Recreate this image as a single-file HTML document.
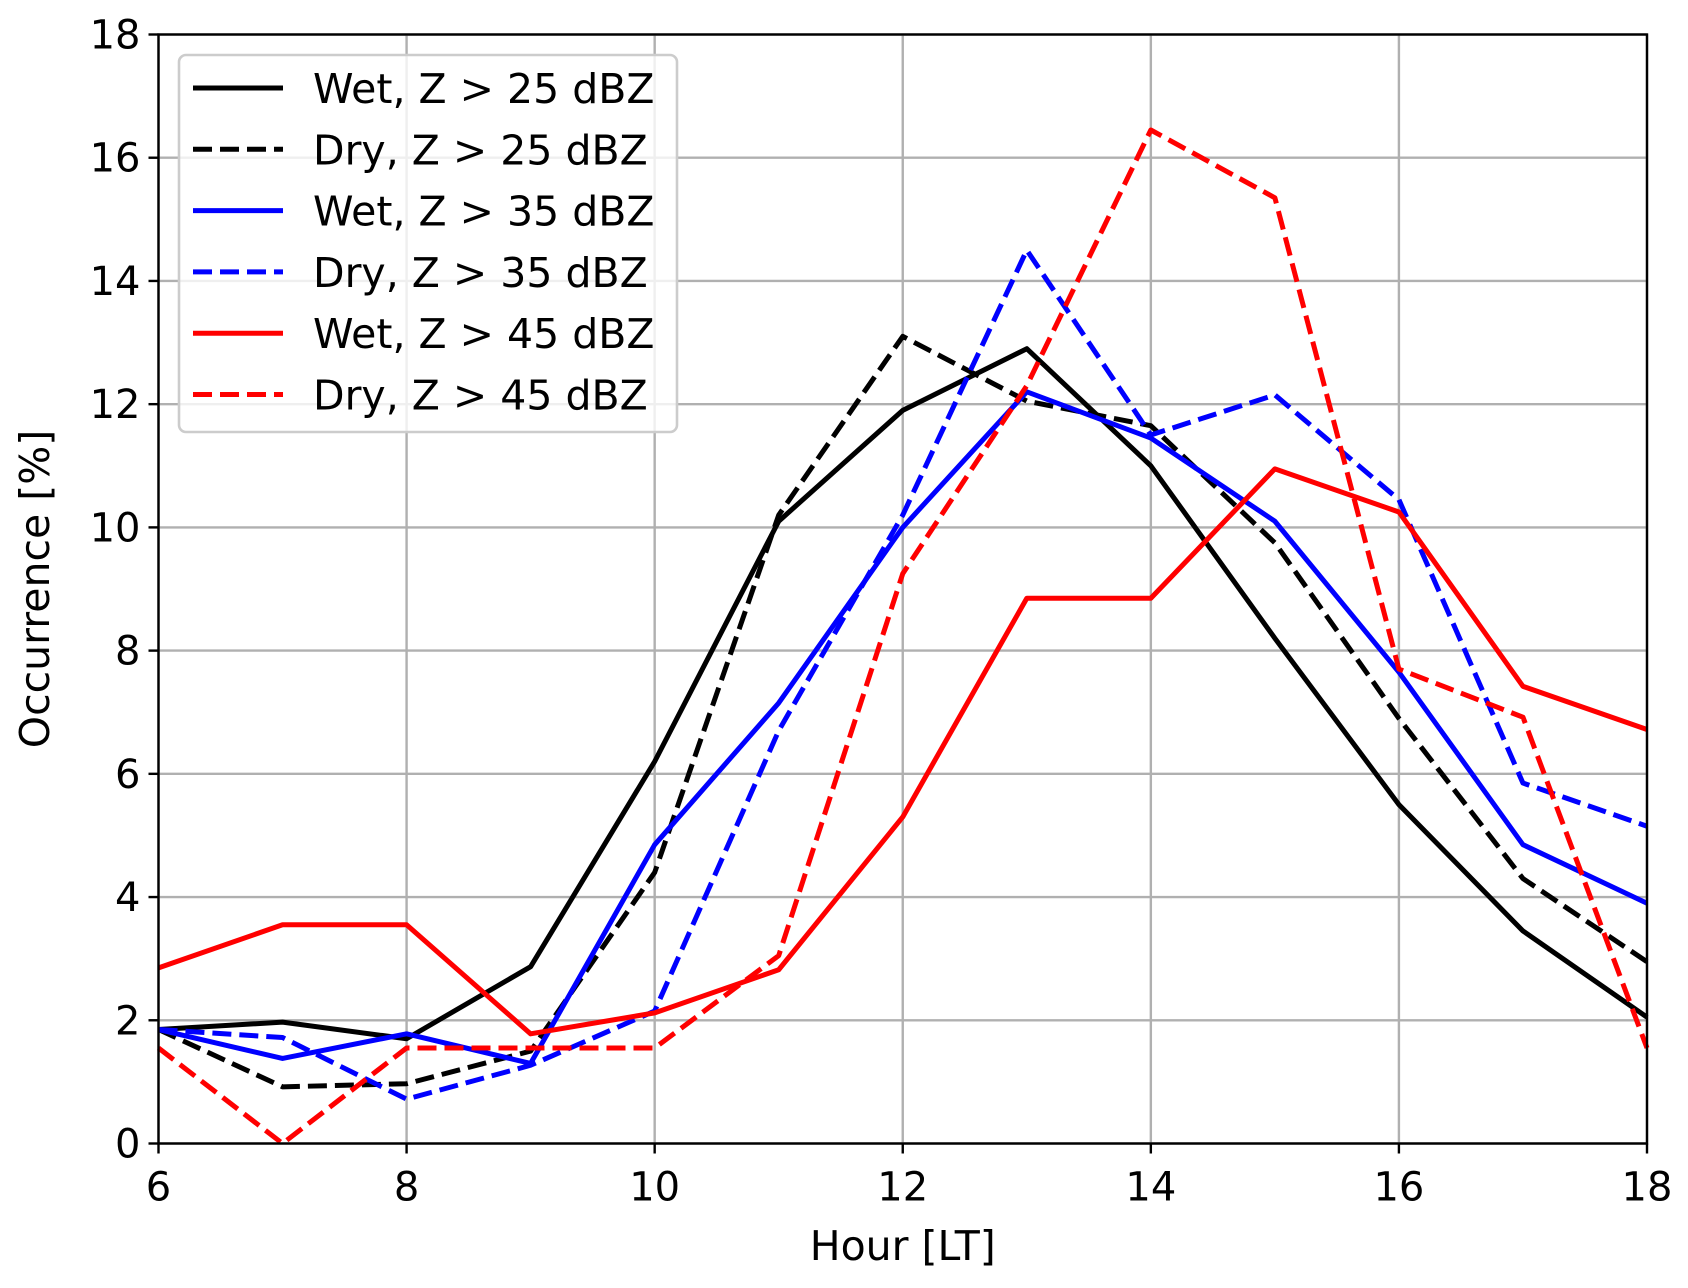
<!DOCTYPE html>
<html><head><meta charset="utf-8"><style>
html,body{margin:0;padding:0;background:#fff;}
svg text{font-family:"DejaVu Sans","Liberation Sans",sans-serif;fill:#000;}
</style></head><body>
<svg id="chart" width="1688" height="1283" viewBox="0 0 1688 1283" xmlns="http://www.w3.org/2000/svg">
<g id="grid"></g>
<g id="series"></g>
<g id="axes"></g>
<g id="legend"></g>
</svg>
<script>
const hours = [6,7,8,9,10,11,12,13,14,15,16,17,18];
const wet25 = [1.85,1.97,1.7,2.87,6.2,10.1,11.9,12.9,11.0,8.2,5.5,3.45,2.05];
const dry25 = [1.85,0.92,0.97,1.5,4.4,10.2,13.1,12.05,11.65,9.75,6.9,4.3,2.95];
const wet35 = [1.85,1.38,1.78,1.3,4.85,7.15,10.0,12.2,11.45,10.1,7.65,4.85,3.9];
const dry35 = [1.85,1.72,0.72,1.27,2.15,6.7,10.2,14.5,11.5,12.15,10.45,5.85,5.15];
const wet45 = [2.85,3.55,3.55,1.78,2.12,2.82,5.3,8.85,8.85,10.95,10.25,7.42,6.72];
const dry45 = [1.55,0.0,1.55,1.55,1.55,3.05,9.25,12.3,16.45,15.35,7.7,6.92,1.55];
const xTicks = [6,8,10,12,14,16,18];
const yTicks = [0,2,4,6,8,10,12,14,16,18];
const seriesNames = ["Wet, Z > 25 dBZ","Dry, Z > 25 dBZ","Wet, Z > 35 dBZ","Dry, Z > 35 dBZ","Wet, Z > 45 dBZ","Dry, Z > 45 dBZ"];

const L=158.5,R=1647,T=34.5,B=1143.5;
const X=v=>L+(v-6)/(18-6)*(R-L);
const Y=v=>B-(v-0)/(18-0)*(B-T);
const NS="http://www.w3.org/2000/svg";
function mk(tag,parent,attrs){const e=document.createElementNS(NS,tag);for(const k in attrs)e.setAttribute(k,attrs[k]);parent.appendChild(e);return e;}
const grid=document.getElementById('grid'),axes=document.getElementById('axes'),ser=document.getElementById('series'),leg=document.getElementById('legend');

xTicks.forEach(t=>{
  const g=mk('line',grid,{x1:X(t),x2:X(t),y1:T,y2:B,stroke:'#b0b0b0','stroke-width':2.4});
  
  
  const tk=mk('line',axes,{x1:X(t),x2:X(t),y1:B,y2:B+10,stroke:'#000','stroke-width':2.4});
  
  
  const tx=mk('text',axes,{x:X(t),y:B+57,'font-size':40,'text-anchor':'middle'});
  tx.textContent=t;
  
  
});
yTicks.forEach(t=>{
  const g=mk('line',grid,{x1:L,x2:R,y1:Y(t),y2:Y(t),stroke:'#b0b0b0','stroke-width':2.4});
  
  
  const tk=mk('line',axes,{x1:L-10,x2:L,y1:Y(t),y2:Y(t),stroke:'#000','stroke-width':2.4});
  
  
  const tx=mk('text',axes,{x:L-18,y:Y(t)+14,'font-size':40,'text-anchor':'end'});
  tx.textContent=t;
  
  
});
const frame=mk('rect',axes,{x:L,y:T,width:R-L,height:B-T,fill:'none',stroke:'#000','stroke-width':2.4});


const xl=mk('text',axes,{x:(L+R)/2,y:1260,'font-size':41,'text-anchor':'middle'});
xl.textContent='Hour [LT]';


const yl=mk('text',axes,{x:0,y:0,'font-size':41,'text-anchor':'middle',transform:`translate(49,${(T+B)/2}) rotate(-90)`});
yl.textContent='Occurrence [%]';



const all=[wet25,dry25,wet35,dry35,wet45,dry45];
const colors=['#000','#000','#0000ff','#0000ff','#ff0000','#ff0000'];
const dashed=[false,true,false,true,false,true];
const ids=['wet-25-line','dry-25-line','wet-35-line','dry-35-line','wet-45-line','dry-45-line'];
all.forEach((d,i)=>{
  const pts=d.map((v,j)=>X(hours[j])+','+Y(v)).join(' ');
  const p=mk('polyline',ser,{points:pts,fill:'none',stroke:colors[i],'stroke-width':5,'stroke-linejoin':'round','stroke-dasharray':dashed[i]?'19,8':'none'});
  
  
});

const box=mk('rect',leg,{x:179,y:55,width:498,height:377,rx:7,fill:'#fff','fill-opacity':0.8,stroke:'#cccccc','stroke-width':2.6});


seriesNames.forEach((n,i)=>{
  const y=88+i*61.3;
  const ln=mk('line',leg,{x1:193,x2:283,y1:y,y2:y,stroke:colors[i],'stroke-width':5,'stroke-dasharray':dashed[i]?'19,8':'none'});
  
  
  const t=mk('text',leg,{x:313,y:y+15,'font-size':41});
  t.textContent=n;
  
  
});
</script>
</body></html>
